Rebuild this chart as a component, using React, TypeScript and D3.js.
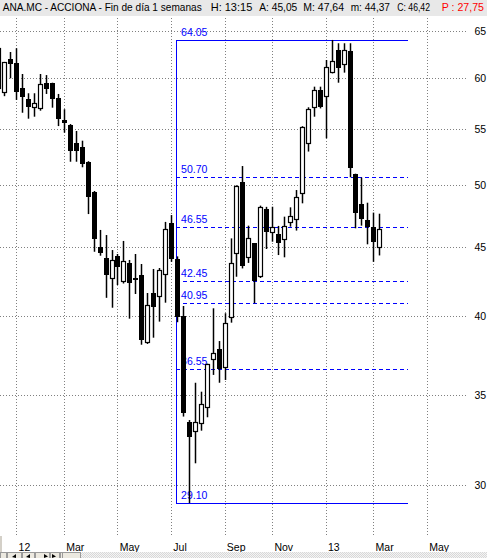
import React from "react";
import * as d3 from "d3";

// Weekly candles for ANA.MC (Acciona), one bar per week, dated by the Friday close.
const firstFriday = new Date(2011, 11, 16);

const open = [
  59.0, 58.64, 62.0, 61.55, 59.0, 57.89, 57.17, 57.07, 59.49, 59.49,
  57.99, 55.89, 55.41, 53.71, 53.35, 52.0, 49.4, 45.0, 44.15, 42.67,
  44.33, 42.46, 43.8, 42.7, 42.9, 38.31, 41.6, 41.38, 42.97, 46.87,
  44.08, 40.02, 33.42, 32.92, 33.33, 34.29, 37.17, 37.81, 36.71, 39.93,
  44.53, 50.26, 44.23, 45.29, 42.86, 48.0, 46.16, 46.0, 45.6, 46.94,
  47.19, 49.37, 53.71, 57.11, 58.81, 58.21, 60.61, 62.96, 61.45, 62.86,
  50.97, 48.43, 47.13, 46.55, 45.05,
];
const high = [
  63.2, 61.7, 62.75, 63.15, 60.44, 58.49, 58.49, 60.44, 60.33, 59.55,
  58.42, 56.92, 55.5, 54.85, 53.95, 52.1, 49.52, 46.34, 45.94, 44.78,
  44.48, 45.48, 44.03, 44.48, 43.73, 41.62, 43.36, 43.43, 46.98, 47.53,
  44.3, 40.71, 33.52, 35.72, 35.18, 36.9, 40.55, 38.35, 40.21, 45.68,
  50.0, 51.67, 46.68, 45.29, 48.3, 48.2, 48.21, 46.66, 47.4, 48.16,
  49.6, 55.3, 57.11, 59.15, 59.15, 61.9, 64.05, 63.69, 63.69, 63.69,
  51.0, 50.67, 48.54, 47.73, 47.64,
];
const low = [
  58.8, 58.2, 60.0, 57.83, 56.58, 56.01, 56.2, 56.78, 58.42, 57.07,
  55.31, 54.69, 52.05, 52.05, 51.56, 47.61, 44.65, 44.35, 41.28, 40.59,
  42.19, 42.3, 39.84, 41.55, 38.11, 38.16, 38.57, 39.64, 40.94, 43.89,
  39.6, 33.72, 29.1, 31.14, 32.92, 33.68, 36.2, 35.72, 35.89, 39.57,
  42.79, 43.4, 43.81, 40.9, 42.7, 44.86, 45.42, 44.4, 44.23, 46.6,
  46.29, 48.49, 52.96, 56.2, 57.0, 54.17, 60.5, 59.55, 60.58, 50.69,
  46.47, 46.68, 45.22, 43.89, 44.37,
];
const close = [
  63.15, 61.66, 61.5, 58.58, 58.15, 57.17, 57.5, 59.42, 58.94, 57.89,
  55.95, 55.57, 53.03, 53.03, 51.85, 49.04, 45.6, 44.53, 42.94, 44.03,
  43.53, 43.93, 42.36, 42.55, 38.41, 40.76, 40.67, 43.26, 46.39, 44.12,
  39.93, 33.91, 32.55, 33.42, 34.43, 36.86, 37.56, 36.58, 39.53, 43.78,
  49.94, 43.6, 45.68, 42.5, 48.21, 46.16, 46.55, 45.29, 46.68, 47.48,
  49.04, 55.19, 56.92, 58.81, 57.11, 61.2, 61.82, 61.03, 62.96, 51.53,
  47.73, 47.19, 46.6, 45.42, 46.42,
];

// Fibonacci retracement drawn between the summer low and the winter high
const fibLevels = [64.05, 50.7, 46.55, 42.45, 40.95, 36.55, 29.1];
const fibFrom = new Date(2012, 6, 12);
const fibTo = new Date(2013, 3, 11);

const priceTicks = [30, 35, 40, 45, 50, 55, 60, 65];
const monthLabels = ["12", "Mar", "May", "Jul", "Sep", "Nov", "13", "Mar", "May"];

const headerParts = [
  { text: "ANA.MC - ACCIONA - Fin de día 1 semanas", x: 2.7, w: 199, color: "#000" },
  { text: "H: 13:15", x: 210.7, w: 41.6, color: "#000" },
  { text: "A: 45,05", x: 259.3, w: 38, color: "#000" },
  { text: "M: 47,64", x: 303.3, w: 40.7, color: "#000" },
  { text: "m: 44,37", x: 350.7, w: 39.3, color: "#000" },
  { text: "C: 46,42", x: 397.3, w: 32.7, color: "#000" },
  { text: "P : 27,75", x: 441.7, w: 42.3, color: "#ff0000" },
];

const W = 487;
const H = 558;
const plotTop = 16;
const plotBottom = 536;
const plotRight = 468;
const font = "'Liberation Sans', Arial, sans-serif";
const fibColor = "#0000ff";

export default function App() {
  const weeks = d3.timeFriday.range(firstFriday, d3.timeFriday.offset(firstFriday, open.length));
  const candles = weeks.map((d, i) => ({ date: d, o: open[i], h: high[i], l: low[i], c: close[i] }));

  const x = d3
    .scaleTime()
    .domain([new Date(2012, 0, 6), new Date(2013, 4, 3)])
    .range([16.3, 426.85]);
  const y = d3.scaleLog().domain([30, 65]).range([485.2, 31.3]);

  const months = d3.timeMonth.every(2)!.range(new Date(2012, 0, 1), new Date(2013, 5, 1));
  const monthX = months.map((m) => x(d3.timeFriday.ceil(m)));

  const fx0 = x(fibFrom);
  const fx1 = x(fibTo);
  const px = (v: number) => Math.round(v);

  return (
    <svg
      width={W}
      height={H}
      style={{ position: "absolute", left: 0, top: 0, display: "block", background: "#fff" }}
      fontFamily={font}
    >
      <defs>
        <pattern id="track" width="2" height="2" patternUnits="userSpaceOnUse">
          <rect width="2" height="2" fill="#f4f4f4" />
          <rect width="1" height="1" fill="#d8d8d8" />
          <rect x="1" y="1" width="1" height="1" fill="#d8d8d8" />
        </pattern>
      </defs>
      <rect width={W} height={H} fill="#fff" />

      {/* header */}
      <rect x={0} y={0} width={W} height={plotTop} fill="#e8e8e8" />
      {headerParts.map((p, i) => (
        <text
          key={i}
          x={p.x}
          y={11}
          fontSize={10.5}
          fill={p.color}
          textLength={p.w}
          lengthAdjust="spacingAndGlyphs"
        >
          {p.text}
        </text>
      ))}

      {/* grid */}
      <g stroke="#808080" strokeWidth={1} strokeDasharray="1,2" shapeRendering="crispEdges">
        {priceTicks.map((t) => (
          <line key={"h" + t} x1={0} x2={plotRight} y1={px(y(t)) + 0.5} y2={px(y(t)) + 0.5} />
        ))}
        {monthX.map((mx, i) => (
          <line key={"v" + i} x1={px(mx) + 0.5} x2={px(mx) + 0.5} y1={plotTop + 2} y2={plotBottom} />
        ))}
      </g>

      {/* fibonacci retracement */}
      <line
        x1={px(fx0) + 0.5}
        x2={px(fx0) + 0.5}
        y1={px(y(fibLevels[0])) + 0.5}
        y2={px(y(fibLevels[fibLevels.length - 1])) + 0.5}
        stroke={fibColor}
        strokeWidth={1}
        shapeRendering="crispEdges"
      />
      {fibLevels.map((lv, i) => {
        const solid = i === 0 || i === fibLevels.length - 1;
        const yy = px(y(lv)) + 0.5;
        return (
          <line
            key={lv}
            x1={px(fx0)}
            x2={px(fx1)}
            y1={yy}
            y2={yy}
            stroke={fibColor}
            strokeWidth={1}
            strokeDasharray={solid ? undefined : "4,3"}
            shapeRendering="crispEdges"
          />
        );
      })}
      <g fill={fibColor} fontSize={10.5}>
        {fibLevels.map((lv) => (
          <text key={lv} x={fx0 + 5} y={y(lv) - 4}>
            {lv.toFixed(2)}
          </text>
        ))}
      </g>

      {/* candles */}
      <g>
        {candles.map((d, i) => {
          const cx = px(x(d.date));
          const up = d.c >= d.o;
          const top = y(Math.max(d.o, d.c));
          const bot = y(Math.min(d.o, d.c));
          return (
            <g key={i}>
              <line x1={cx + 0.5} x2={cx + 0.5} y1={y(d.h)} y2={y(d.l)} stroke="#000" strokeWidth={1.5} />
              {up ? (
                <rect
                  x={cx - 1.5}
                  y={Math.round(top) + 0.5}
                  width={4}
                  height={Math.max(1, Math.round(bot) - Math.round(top))}
                  fill="#fff"
                  stroke="#000"
                  strokeWidth={1.2}
                />
              ) : (
                <rect
                  x={cx - 2}
                  y={Math.round(top)}
                  width={5}
                  height={Math.max(2, Math.round(bot) - Math.round(top))}
                  fill="#000"
                  shapeRendering="crispEdges"
                />
              )}
            </g>
          );
        })}
      </g>

      {/* price axis */}
      <g fontSize={10.5} fill="#000">
        {priceTicks.map((t) => (
          <text key={t} x={474.5} y={y(t) + 3.8}>
            {t}
          </text>
        ))}
      </g>

      {/* time axis */}
      <g fontSize={10.5} fill="#000">
        {monthX.map((mx, i) => (
          <text key={i} x={mx + 2.3} y={550.7}>
            {monthLabels[i]}
          </text>
        ))}
      </g>

      {/* scroll bar */}
      <rect x={0} y={552} width={W} height={6} fill="url(#track)" />
      <g shapeRendering="crispEdges">
        <rect x={0} y={536} width={2} height={22} fill="#d4d0c8" />
        {[0, 7, 22, 35, 50, 60].map((bx, i, arr) => {
          const w = (arr[i + 1] ?? 80) - bx;
          return <rect key={bx} x={bx + 0.5} y={552.5} width={w - 1} height={6} fill="#ece9e0" stroke="#9a9a9a" />;
        })}
        <rect x={62.5} y={552.5} width={18} height={6} fill="#ece9e0" stroke="#9a9a9a" />
      </g>
      <g fill="#000">
        <path d="M12,557 L16,554 L16,558 Z" />
        <path d="M26,557 L30,554 L30,558 Z" />
        <path d="M44,554 L48,556.5 L44,558 Z" />
        <path d="M52,554 L56,556.5 L52,558 Z" />
      </g>
    </svg>
  );
}
